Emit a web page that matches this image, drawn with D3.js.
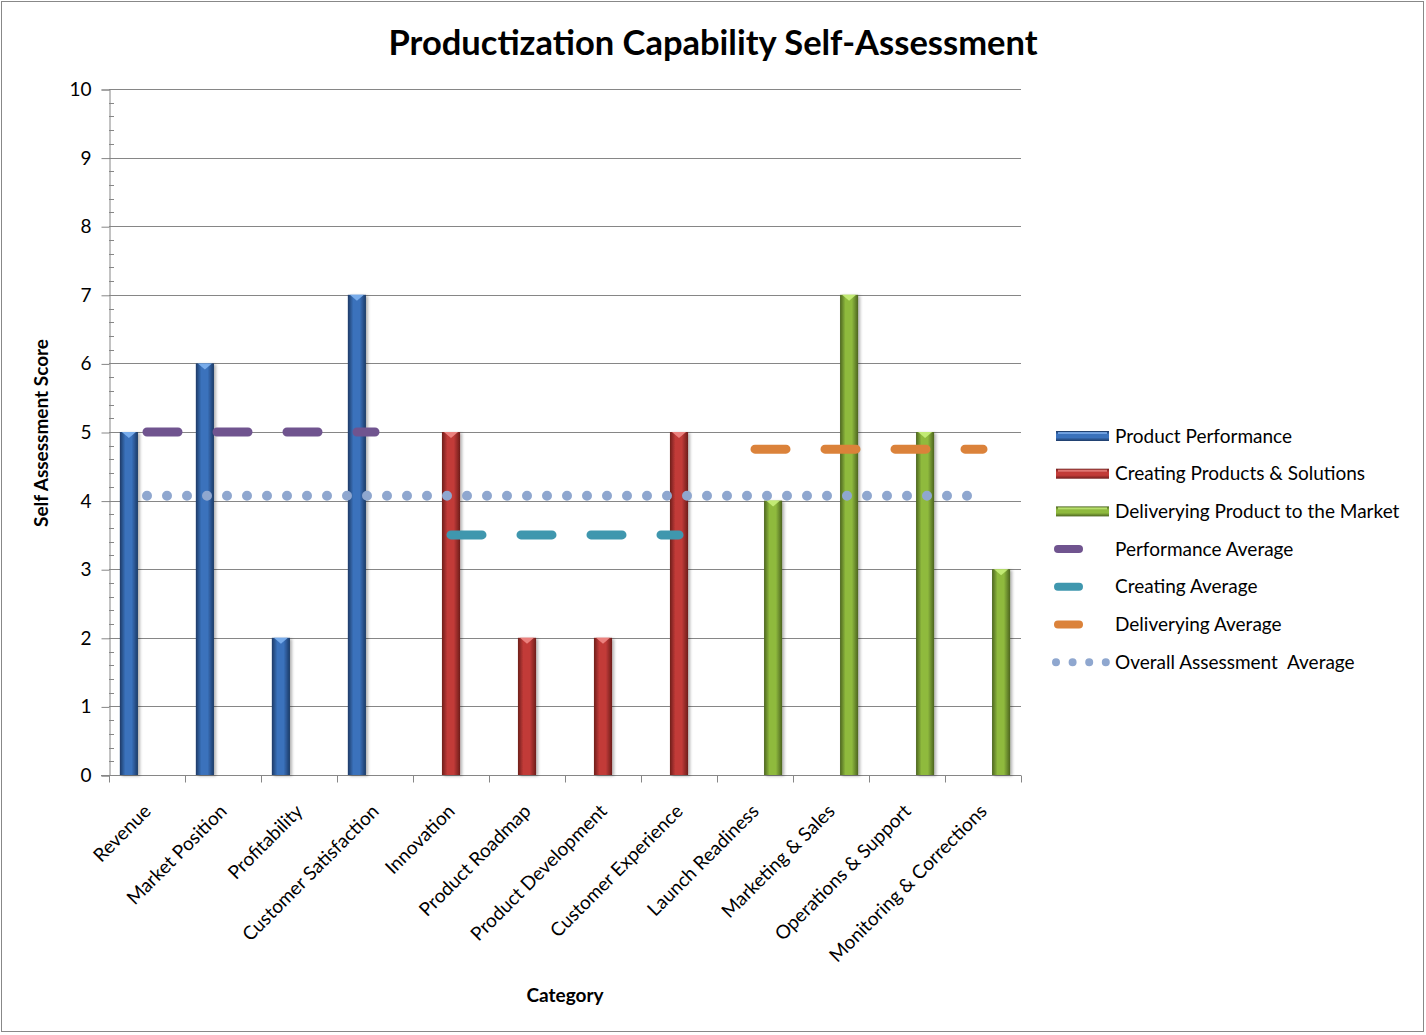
<!DOCTYPE html>
<html>
<head>
<meta charset="utf-8">
<script src="https://cdn.jsdelivr.net/npm/d3@7"></script>
<style>
  body { margin: 0; background: #fff; }
  svg { font-family: Lato, "Open Sans", sans-serif; }
</style>
</head>
<body>
<svg width="1426" height="1035"></svg>
<script>
// data
var categories = ["Revenue", "Market Position", "Profitability", "Customer Satisfaction",
  "Innovation", "Product Roadmap", "Product Development", "Customer Experience",
  "Launch Readiness", "Marketing & Sales", "Operations & Support", "Monitoring & Corrections"];
var productPerformance = [5, 6, 2, 7, null, null, null, null, null, null, null, null];
var creatingProducts   = [null, null, null, null, 5, 2, 2, 5, null, null, null, null];
var deliveringProduct  = [null, null, null, null, null, null, null, null, 4, 7, 5, 3];
var performanceAvg = [5, 5, 5, 5, null, null, null, null, null, null, null, null];
var creatingAvg    = [null, null, null, null, 3.5, 3.5, 3.5, 3.5, null, null, null, null];
var deliveringAvg  = [null, null, null, null, null, null, null, null, 4.75, 4.75, 4.75, 4.75];
var overallAvg     = [4.07, 4.07, 4.07, 4.07, 4.07, 4.07, 4.07, 4.07, 4.07, 4.07, 4.07, 4.07];
var yTicks = [0, 1, 2, 3, 4, 5, 6, 7, 8, 9, 10];

var barSeries = [
  {name: "Product Performance", values: productPerformance, dark: "#1d3a66", mid: "#3a72bc", light: "#7fb2f0"},
  {name: "Creating Products & Solutions", values: creatingProducts, dark: "#6e1d1c", mid: "#c23b38", light: "#f08a86"},
  {name: "Deliverying Product to the Market", values: deliveringProduct, dark: "#4c6420", mid: "#8fba3e", light: "#c8f07a"}
];
var lineSeries = [
  {name: "Performance Average", values: performanceAvg, color: "#70548f", dash: "31,39", width: 9},
  {name: "Creating Average", values: creatingAvg, color: "#3f97ae", dash: "31,39", width: 9},
  {name: "Deliverying Average", values: deliveringAvg, color: "#db823a", dash: "31,39", width: 9},
  {name: "Overall Assessment  Average", values: overallAvg, color: "#8fa7cf", dash: "0,20", width: 10}
];

var svg = d3.select("svg");
var plotLeft = 109, plotRight = 1021, plotTop = 89, plotBottom = 775;

var x0 = d3.scaleBand().domain(categories).range([plotLeft, plotRight]).padding(0);
var x1 = d3.scaleBand().domain(barSeries.map(function(s) { return s.name; }))
  .range([0, x0.bandwidth()]).paddingInner(0).paddingOuter(0.6);
var y = d3.scaleLinear().domain([0, 10]).range([plotBottom, plotTop]);

var defs = svg.append("defs");
barSeries.forEach(function(s, i) {
  var g = defs.append("linearGradient").attr("id", "bar" + i)
    .attr("x1", 0).attr("x2", 1).attr("y1", 0).attr("y2", 0);
  g.append("stop").attr("offset", "0%").attr("stop-color", s.dark);
  g.append("stop").attr("offset", "30%").attr("stop-color", s.mid);
  g.append("stop").attr("offset", "65%").attr("stop-color", s.mid);
  g.append("stop").attr("offset", "100%").attr("stop-color", s.dark);
  var v = defs.append("linearGradient").attr("id", "leg" + i)
    .attr("x1", 0).attr("x2", 0).attr("y1", 0).attr("y2", 1);
  v.append("stop").attr("offset", "0%").attr("stop-color", s.dark);
  v.append("stop").attr("offset", "35%").attr("stop-color", s.mid);
  v.append("stop").attr("offset", "65%").attr("stop-color", s.mid);
  v.append("stop").attr("offset", "100%").attr("stop-color", s.dark);
});
var shadow = defs.append("filter").attr("id", "shadow")
  .attr("x", "-50%").attr("y", "-5%").attr("width", "200%").attr("height", "110%");
shadow.append("feDropShadow").attr("dx", 2).attr("dy", 1).attr("stdDeviation", 1.5)
  .attr("flood-color", "#000").attr("flood-opacity", 0.3);

// outer border
svg.append("rect").attr("x", 1.5).attr("y", 1.5).attr("width", 1422).attr("height", 1030)
  .attr("fill", "#fff").attr("stroke", "#888").attr("stroke-width", 1);

// title
svg.append("text").attr("x", 713).attr("y", 55).attr("text-anchor", "middle")
  .attr("font-size", 34.5).attr("font-weight", "bold").attr("fill", "#000")
  .text("Productization Capability Self-Assessment");

// gridlines
svg.append("g").selectAll("line").data(yTicks.slice(1)).enter().append("line")
  .attr("x1", plotLeft).attr("x2", plotRight)
  .attr("y1", function(d) { return Math.round(y(d)) + 0.5; })
  .attr("y2", function(d) { return Math.round(y(d)) + 0.5; })
  .attr("stroke", "#868686").attr("stroke-width", 1);

// y axis
var yAxis = svg.append("g").attr("transform", "translate(" + (plotLeft + 0.5) + ",0.5)")
  .call(d3.axisLeft(y).tickValues(yTicks).tickSize(8).tickPadding(10).tickFormat(d3.format("d")));
yAxis.select(".domain").attr("stroke", "#868686");
yAxis.selectAll(".tick line").attr("stroke", "#868686");
yAxis.selectAll(".tick text").attr("font-size", 19).attr("fill", "#000")
  .attr("font-family", "Lato, sans-serif");
var minor = d3.range(0, 10.001, 0.2).filter(function(d) { return Math.abs(d - Math.round(d)) > 0.01; });
svg.append("g").selectAll("line").data(minor).enter().append("line")
  .attr("x1", plotLeft).attr("x2", plotLeft + 5)
  .attr("y1", function(d) { return Math.round(y(d)) + 0.5; })
  .attr("y2", function(d) { return Math.round(y(d)) + 0.5; })
  .attr("stroke", "#868686");

// x axis
var xAxis = svg.append("g").attr("transform", "translate(0," + (plotBottom + 0.5) + ")");
xAxis.append("line").attr("x1", plotLeft - 8).attr("x2", plotRight).attr("stroke", "#868686");
xAxis.selectAll(".xt").data(d3.range(categories.length + 1)).enter().append("line")
  .attr("x1", function(i) { return Math.round(plotLeft + i * x0.step()) + 0.5; })
  .attr("x2", function(i) { return Math.round(plotLeft + i * x0.step()) + 0.5; })
  .attr("y1", 0).attr("y2", 7).attr("stroke", "#868686");
xAxis.selectAll(".xl").data(categories).enter().append("text")
  .attr("transform", function(d) {
    return "translate(" + (x0(d) + x0.bandwidth() / 2 + 5) + ",37) rotate(-45)";
  })
  .attr("text-anchor", "end").attr("font-size", 19).attr("fill", "#000")
  .text(function(d) { return d; });

// axis titles
svg.append("text").attr("transform", "translate(48,433) rotate(-90)")
  .attr("text-anchor", "middle").attr("font-size", 19).attr("font-weight", "bold")
  .text("Self Assessment Score");
svg.append("text").attr("x", 565).attr("y", 1002).attr("text-anchor", "middle")
  .attr("font-size", 19).attr("font-weight", "bold").text("Category");

// bars
barSeries.forEach(function(s, i) {
  var data = categories.map(function(c, k) { return {cat: c, v: s.values[k]}; })
    .filter(function(d) { return d.v != null; });
  var g = svg.append("g");
  var bw = x1.bandwidth();
  g.selectAll("rect").data(data).enter().append("rect")
    .attr("x", function(d) { return x0(d.cat) + x1(s.name); })
    .attr("y", function(d) { return y(d.v); })
    .attr("width", bw)
    .attr("height", function(d) { return y(0) - y(d.v); })
    .attr("fill", "url(#bar" + i + ")")
    .attr("filter", "url(#shadow)");
  g.selectAll("path").data(data).enter().append("path")
    .attr("d", function(d) {
      var bx = x0(d.cat) + x1(s.name), by = y(d.v);
      return "M" + (bx + 2) + "," + by + "L" + (bx + bw - 2) + "," + by +
        "L" + (bx + bw / 2) + "," + (by + 6) + "Z";
    })
    .attr("fill", s.light).attr("opacity", 0.9);
});

// average lines
var line = d3.line()
  .defined(function(d) { return d.v != null; })
  .x(function(d) { return x0(d.cat) + x0.bandwidth() / 2; })
  .y(function(d) { return y(d.v); });
lineSeries.forEach(function(s) {
  var data = categories.map(function(c, k) { return {cat: c, v: s.values[k]}; });
  svg.append("path").datum(data).attr("d", line)
    .attr("fill", "none").attr("stroke", s.color).attr("stroke-width", s.width)
    .attr("stroke-dasharray", s.dash).attr("stroke-linecap", "round");
});

// legend
var legend = svg.append("g");
var rowY = function(i) { return 436 + i * 37.7; };
barSeries.forEach(function(s, i) {
  legend.append("rect").attr("x", 1056).attr("y", rowY(i) - 5).attr("width", 53).attr("height", 10)
    .attr("fill", "url(#leg" + i + ")");
  legend.append("rect").attr("x", 1058).attr("y", rowY(i) - 4).attr("width", 49).attr("height", 2)
    .attr("fill", s.light).attr("opacity", 0.8);
});
lineSeries.forEach(function(s, j) {
  var i = j + 3;
  if (s.dash === "0,20") {
    legend.append("line").attr("x1", 1056).attr("x2", 1106).attr("y1", rowY(i)).attr("y2", rowY(i))
      .attr("stroke", s.color).attr("stroke-width", 8).attr("stroke-linecap", "round")
      .attr("stroke-dasharray", "0,16.6");
  } else {
    legend.append("line").attr("x1", 1058).attr("x2", 1079).attr("y1", rowY(i)).attr("y2", rowY(i))
      .attr("stroke", s.color).attr("stroke-width", 8).attr("stroke-linecap", "round");
  }
});
barSeries.map(function(s) { return s.name; })
  .concat(lineSeries.map(function(s) { return s.name; }))
  .forEach(function(name, i) {
    legend.append("text").attr("x", 1115).attr("y", rowY(i) + 6.5)
      .attr("font-size", 19).attr("fill", "#000").attr("xml:space", "preserve").text(name);
  });
</script>
</body>
</html>
